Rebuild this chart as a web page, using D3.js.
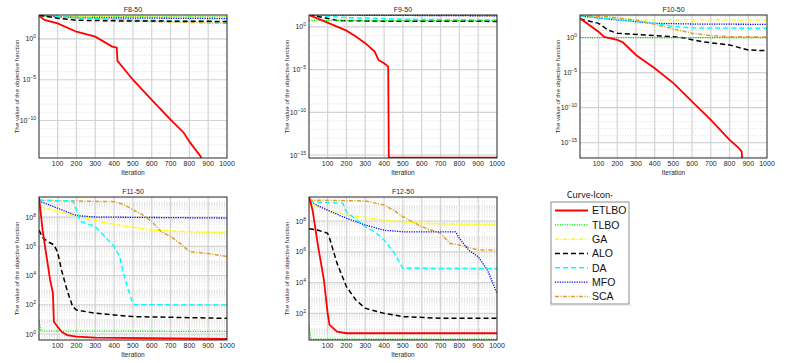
<!DOCTYPE html>
<html>
<head>
<meta charset="utf-8">
<script src="https://cdn.jsdelivr.net/npm/d3@7"></script>
<style>
  body { margin: 0; background: #fff; }
  svg { display: block; font-family: "Liberation Sans", Arial, sans-serif; }
</style>
</head>
<body>
<svg id="chart" width="787" height="363"></svg>
<script>
// values are log10 of the objective function: [iteration, log10(f)]
var iterTicks = [100, 200, 300, 400, 500, 600, 700, 800, 900, 1000];
var algoNames = ["ETLBO", "TLBO", "GA", "ALO", "DA", "MFO", "SCA"];

var f8Etlbo = [[1,2.85],[30,2.33],[100,1.92],[200,0.89],[300,0.28],[390,-0.94],[414,-1.07],[418,-2.69],[500,-5.0],[600,-7.47],[700,-9.9],[770,-11.5],[805,-12.75],[860,-14.4],[875,-15.5]];
var f8Tlbo  = [[1,2.75],[1000,2.7]];
var f8Ga    = [[1,2.9],[100,2.7],[1000,2.63]];
var f8Alo   = [[1,2.9],[100,2.55],[200,2.3],[400,2.22],[1000,2.15]];
var f8Da    = [[1,2.9],[200,2.6],[500,2.3],[1000,2.1]];
var f8Mfo   = [[1,2.9],[200,2.6],[1000,2.5]];
var f8Sca   = [[1,2.9],[300,2.5],[600,2.15],[1000,1.92]];

var f9Etlbo = [[1,1.4],[100,0.5],[200,-0.43],[250,-1.13],[300,-1.9],[350,-2.89],[370,-3.86],[400,-4.25],[422,-4.64],[425,-15.3],[1000,-15.3]];
var f9Tlbo  = [[1,0.76],[1000,0.74]];
var f9Ga    = [[1,1.4],[1000,1.35]];
var f9Alo   = [[1,1.4],[80,1.1],[150,0.75],[400,0.68],[1000,0.65]];
var f9Da    = [[1,1.4],[200,1.1],[500,0.9],[1000,0.8]];
var f9Mfo   = [[1,1.4],[1000,1.3]];
var f9Sca   = [[1,1.4],[1000,1.33]];

var f10Etlbo = [[1,2.77],[100,0.86],[130,0.1],[200,-0.33],[230,-0.66],[300,-2.47],[400,-4.37],[500,-6.5],[600,-9.14],[700,-11.76],[800,-14.6],[850,-15.8],[865,-16.3],[868,-18]];
var f10Tlbo  = [[1,0.02],[1000,0.0]];
var f10Ga    = [[1,3.17],[150,2.9],[300,2.58],[1000,2.53]];
var f10Alo   = [[1,2.67],[100,2.05],[150,1.1],[200,0.63],[500,0.14],[550,0.0],[650,-0.57],[800,-1.04],[900,-1.76],[1000,-1.86]];
var f10Da    = [[1,3.1],[200,2.6],[400,2.05],[500,1.57],[600,1.4],[1000,1.34]];
var f10Mfo   = [[1,3.1],[200,2.53],[400,2.05],[600,1.95],[1000,1.9]];
var f10Sca   = [[1,3.17],[150,3.0],[300,2.5],[400,1.9],[500,1.24],[600,0.63],[700,0.29],[800,0.14],[1000,0.1]];

var f11Etlbo = [[1,9.4],[10,8.3],[20,7.1],[40,5.4],[60,3.7],[75,2.8],[80,0.84],[100,0.5],[120,0.16],[150,-0.07],[200,-0.18],[300,-0.25],[1000,-0.34]];
var f11Tlbo  = [[1,0.96],[10,0.2],[1000,0.18]];
var f11Ga    = [[1,8.73],[100,8.39],[200,8.05],[400,7.5],[600,7.1],[800,7.0],[1000,6.9]];
var f11Alo   = [[1,7.1],[20,6.6],[50,6.3],[80,6.1],[100,5.6],[120,4.4],[150,3.0],[180,1.87],[200,1.64],[300,1.42],[400,1.3],[500,1.19],[1000,1.07]];
var f11Da    = [[1,9.14],[180,9.1],[200,8.5],[220,7.7],[300,7.35],[350,6.67],[400,5.98],[430,5.3],[450,4.15],[470,3.24],[500,2.1],[510,2.0],[1000,1.98]];
var f11Mfo   = [[1,9.1],[100,8.6],[200,8.1],[300,8.0],[1000,7.93]];
var f11Sca   = [[1,9.14],[400,9.05],[450,8.86],[500,8.5],[550,8.16],[600,7.7],[650,7.0],[700,6.67],[750,6.2],[800,5.64],[900,5.5],[1000,5.3]];

var f12Etlbo = [[1,9.6],[20,8.7],[50,6.3],[80,4.2],[100,2.0],[110,1.25],[150,0.81],[200,0.71],[1000,0.71]];
var f12Tlbo  = [[1,1.25],[10,0.32],[1000,0.32]];
var f12Ga    = [[1,9.15],[100,8.7],[200,8.4],[400,8.06],[600,7.85],[1000,7.74]];
var f12Alo   = [[1,7.5],[50,7.4],[100,7.2],[110,6.9],[150,5.25],[200,3.73],[250,2.87],[300,2.33],[400,2.0],[500,1.79],[700,1.68],[1000,1.68]];
var f12Da    = [[1,9.25],[180,9.15],[200,8.6],[300,7.63],[350,7.3],[400,6.77],[450,6.0],[500,4.93],[1000,4.9]];
var f12Mfo   = [[1,9.27],[100,8.7],[200,8.18],[300,7.74],[400,7.4],[500,7.3],[780,7.3],[800,6.88],[850,6.1],[900,5.68],[950,4.8],[1000,3.3]];
var f12Sca   = [[1,9.36],[300,9.3],[400,9.04],[450,8.7],[500,8.28],[600,7.63],[700,7.2],[750,6.55],[800,6.44],[900,6.12],[1000,6.12]];

var styles = {
  ETLBO: { color: "#ff0000", dash: null, width: 1.8 },
  TLBO:  { color: "#00e600", dash: "1.2,1.2", width: 1.3 },
  GA:    { color: "#ffff00", dash: "4,1.5,1,1.5", width: 1.5 },
  ALO:   { color: "#000000", dash: "5,3", width: 1.5 },
  DA:    { color: "#00ffff", dash: "5,3", width: 1.5 },
  MFO:   { color: "#0000ff", dash: "1.2,1.2", width: 1.3 },
  SCA:   { color: "#d9a030", dash: "4,1.5,1,1.5", width: 1.5 }
};

var panels = [
  { title: "F8-50",  box: [39, 15, 227, 158],  dom: [-14.6, 2.94], ticks: [-10, -5, 0], step: 5,
    series: [f8Tlbo, f8Ga, f8Mfo, f8Sca, f8Da, f8Alo, f8Etlbo], order: ["TLBO","GA","MFO","SCA","DA","ALO","ETLBO"] },
  { title: "F9-50",  box: [309, 15, 497, 158], dom: [-15.35, 1.4], ticks: [-15, -10, -5, 0], step: 5,
    series: [f9Ga, f9Sca, f9Mfo, f9Da, f9Alo, f9Tlbo, f9Etlbo], order: ["GA","SCA","MFO","DA","ALO","TLBO","ETLBO"] },
  { title: "F10-50", box: [580, 15, 767, 158], dom: [-17.2, 3.24], ticks: [-15, -10, -5, 0], step: 5,
    series: [f10Ga, f10Mfo, f10Da, f10Sca, f10Alo, f10Tlbo, f10Etlbo], order: ["GA","MFO","DA","SCA","ALO","TLBO","ETLBO"] },
  { title: "F11-50", box: [39, 197, 227, 340], dom: [-0.41, 9.37], ticks: [0, 2, 4, 6, 8], step: 1,
    series: [f11Ga, f11Mfo, f11Sca, f11Da, f11Alo, f11Tlbo, f11Etlbo], order: ["GA","MFO","SCA","DA","ALO","TLBO","ETLBO"] },
  { title: "F12-50", box: [309, 197, 497, 340], dom: [0.27, 9.56], ticks: [2, 4, 6, 8], step: 1,
    series: [f12Ga, f12Sca, f12Mfo, f12Da, f12Alo, f12Tlbo, f12Etlbo], order: ["GA","SCA","MFO","DA","ALO","TLBO","ETLBO"] }
];

var svg = d3.select("#chart");

panels.forEach(function(p, pi) {
  var x0 = p.box[0], y0 = p.box[1], x1 = p.box[2], y1 = p.box[3];
  var x = d3.scaleLinear().domain([1, 1000]).range([x0, x1]);
  var y = d3.scaleLog().domain([Math.pow(10, p.dom[0]), Math.pow(10, p.dom[1])]).range([y1, y0]);
  var g = svg.append("g");

  g.append("clipPath").attr("id", "clip" + pi)
    .append("rect").attr("x", x0).attr("y", y0).attr("width", x1 - x0).attr("height", y1 - y0);

  // minor y grid (dotted)
  var minors = [];
  for (var e = Math.floor(p.dom[0]); e <= Math.ceil(p.dom[1]); e++) {
    if (p.step === 5) {
      minors.push(Math.pow(10, e));
    } else {
      for (var m = 1; m < 10; m++) minors.push(m * Math.pow(10, e));
    }
  }
  minors = minors.filter(v => v > y.domain()[0] && v < y.domain()[1]);
  g.selectAll(".minor").data(minors).enter().append("line")
    .attr("x1", x0).attr("x2", x1)
    .attr("y1", d => y(d)).attr("y2", d => y(d))
    .attr("stroke", "#cfcfcf").attr("stroke-width", 0.6)
    .attr("stroke-dasharray", "1,1.5");

  // major grid
  g.selectAll(".ygrid").data(p.ticks).enter().append("line")
    .attr("x1", x0).attr("x2", x1)
    .attr("y1", d => y(Math.pow(10, d))).attr("y2", d => y(Math.pow(10, d)))
    .attr("stroke", "#d4d4d4").attr("stroke-width", 1.2);
  g.selectAll(".xgrid").data(iterTicks.slice(0, -1)).enter().append("line")
    .attr("x1", d => x(d)).attr("x2", d => x(d))
    .attr("y1", y0).attr("y2", y1)
    .attr("stroke", "#d4d4d4").attr("stroke-width", 1.2);

  var line = d3.line()
    .x(d => x(d[0]))
    .y(d => y(Math.pow(10, d[1])));

  p.series.forEach(function(s, si) {
    var st = styles[p.order[si]];
    g.append("path")
      .attr("clip-path", "url(#clip" + pi + ")")
      .attr("fill", "none")
      .attr("stroke", st.color)
      .attr("stroke-width", st.width)
      .attr("stroke-dasharray", st.dash)
      .attr("d", line(s));
  });

  // frame
  g.append("rect")
    .attr("x", x0).attr("y", y0).attr("width", x1 - x0).attr("height", y1 - y0)
    .attr("fill", "none").attr("stroke", "#262626").attr("stroke-width", 1);

  // x tick labels
  g.selectAll(".xt").data(iterTicks).enter().append("text")
    .attr("x", d => x(d)).attr("y", y1 + 8)
    .attr("text-anchor", "middle")
    .attr("font-size", 7).attr("fill", "#262626")
    .text(d => d);

  // y tick labels, 10^n
  var yt = g.selectAll(".yt").data(p.ticks).enter().append("text")
    .attr("x", x0 - 3).attr("y", d => y(Math.pow(10, d)) + 2.5)
    .attr("text-anchor", "end")
    .attr("font-size", 7).attr("fill", "#262626");
  yt.append("tspan").text("10");
  yt.append("tspan").attr("dy", -3).attr("font-size", 5).text(d => String(d).replace("-", "\u2212"));

  g.append("text")
    .attr("x", (x0 + x1) / 2).attr("y", y1 + 17)
    .attr("text-anchor", "middle").attr("font-size", 6.5).attr("fill", "#262626")
    .text("Iteration");

  g.append("text")
    .attr("x", (x0 + x1) / 2).attr("y", y0 - 3)
    .attr("text-anchor", "middle").attr("font-size", 7).attr("fill", "#262626")
    .text(p.title);

  g.append("text")
    .attr("transform", "translate(" + (x0 - 20) + "," + ((y0 + y1) / 2) + ") rotate(-90)")
    .attr("text-anchor", "middle").attr("font-size", 6.2).attr("fill", "#262626")
    .text("The value of the objective function");
});

// legend
var lg = svg.append("g");
lg.append("text")
  .attr("x", 590).attr("y", 198)
  .attr("text-anchor", "middle")
  .attr("font-family", "Carlito, 'Open Sans', sans-serif")
  .attr("font-size", 10).attr("fill", "#222")
  .text("Curve\u00b7Icon\u00b7");
lg.append("rect")
  .attr("x", 551).attr("y", 202).attr("width", 78).attr("height", 102)
  .attr("fill", "#fff").attr("stroke", "#8c8c8c").attr("stroke-width", 1);
lg.append("line")
  .attr("x1", 549).attr("x2", 633).attr("y1", 305.5).attr("y2", 305.5)
  .attr("stroke", "#cccccc").attr("stroke-width", 0.7).attr("stroke-dasharray", "1,1");

var ly = d3.scalePoint().domain(algoNames).range([210.5, 296.5]);
algoNames.forEach(function(n) {
  var st = styles[n];
  lg.append("line")
    .attr("x1", 555).attr("x2", 588)
    .attr("y1", ly(n)).attr("y2", ly(n))
    .attr("stroke", st.color).attr("stroke-width", st.width)
    .attr("stroke-dasharray", st.dash);
  lg.append("text")
    .attr("x", 592).attr("y", ly(n) + 3.8)
    .attr("font-family", "'Liberation Sans', Arial, sans-serif")
    .attr("font-size", 10.5).attr("fill", "#111")
    .text(n);
});
</script>
</body>
</html>
